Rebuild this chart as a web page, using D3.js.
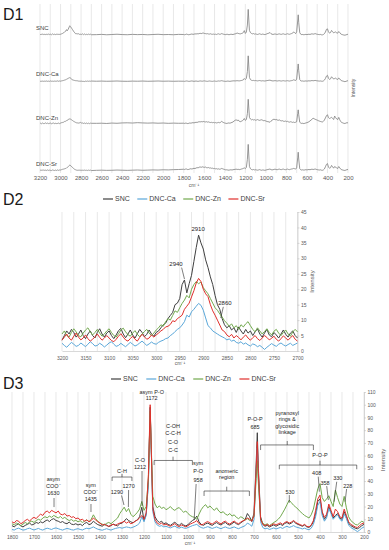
<!DOCTYPE html>
<html>
<head>
<meta charset="utf-8">
<script src="https://cdn.jsdelivr.net/npm/d3@7"></script>
<style>
  body { margin: 0; background: #fff; }
  svg { display: block; }
</style>
</head>
<body>
<div id="chart"></div>
<script>
// Series
const seriesNames = ['SNC', 'DNC-Ca', 'DNC-Zn', 'DNC-Sr'];
const seriesColors = ['#404040', '#5aa7d9', '#72a94e', '#e0302c'];

// D2: 3200 -> 2700 cm-1, every 5
const d2Wave = d3.range(3200, 2699, -5);
const d2SNC = [3.5, 5, 6.5, 5.5, 7, 6, 4.5, 5.5, 6.8, 5, 4, 5.5, 6.5, 5, 4.2, 6, 7.2, 5.5, 4.5, 5.8,
  6.5, 5, 4, 5.2, 6.6, 7.3, 5.5, 4.3, 5.5, 6.8, 5.2, 4.2, 5.6, 7, 6, 4.6, 5.4, 6.8, 5.5, 4.8,
  6, 6.5, 7.5, 8.5, 9, 10.5, 11.5, 12.5, 15, 15.5, 17, 21.5, 23, 18.8, 21.8, 24.5, 29, 33.5, 37.5, 35,
  33, 29.5, 27, 24, 21.5, 18, 15, 13.5, 10.5, 8.5, 7.5, 8.2, 6.8, 7.5, 6, 7.8, 6.5, 5.5, 7, 5.8,
  6.5, 5, 6.2, 7.2, 5.5, 4.5, 5.8, 7, 5.2, 4.6, 6, 5.2, 4.2, 5.5, 6.8, 5.4, 4.5, 5.8, 6.5, 5, 4.2];
const d2Ca = [2.5, 1.8, 1.2, 2, 2.8, 2.2, 1.5, 1.8, 2.6, 2, 1.4, 2.2, 3, 2.4, 1.6, 1.8, 2.5, 2, 1.3, 1.9,
  2.6, 3, 2.2, 1.5, 1.8, 2.5, 1.9, 1.4, 2.1, 2.8, 2.2, 1.6, 2, 2.6, 3.2, 2.5, 1.8, 2.3, 2.9, 2.4,
  2.2, 2.8, 3.2, 3.5, 4, 4.2, 5, 5.5, 6.3, 7, 7.5, 8.4, 9.5, 11.6, 11, 12.7, 13.5, 14.5, 15.4, 14.8,
  13.2, 10.7, 8.2, 7.5, 6.5, 6, 5.5, 5, 4.6, 4.2, 3.6, 3.9, 3.2, 3.5, 2.8, 2.5, 3, 2.2, 2.6, 2,
  1.6, 2.3, 2, 1.4, 1.8, 1.2, 0.5, 1.2, 1.8, 2.4, 1.9, 1.5, 2.2, 2.6, 2, 1.6, 2.1, 2.5, 1.8, 2.2, 2.6];
const d2Zn = [5.5, 6.5, 5, 4.5, 6, 7.2, 6.2, 5, 4.6, 5.8, 6.8, 7.5, 6.2, 5.2, 6, 7, 5.8, 4.8, 5.5, 6.5,
  7.2, 6, 5, 4.5, 5.6, 6.8, 7.4, 6.2, 5.3, 4.8, 5.8, 6.6, 5.4, 4.6, 5.5, 6.3, 7, 5.8, 5, 5.8,
  6.8, 7.5, 8.5, 8, 9.5, 10.5, 10, 11.5, 13, 12.5, 14, 15.4, 16.5, 18, 17.2, 20, 21.5, 22.5, 21.8, 22.3,
  20.5, 19.5, 18.5, 17, 15.5, 14, 13.2, 12, 11, 9.8, 9, 8, 8.8, 7.5, 8.2, 7, 8.5, 7.8, 8.8, 9.5,
  8.2, 7, 6.2, 7.5, 6.5, 5.5, 6.3, 7.2, 6, 5.2, 6.4, 7, 5.8, 5, 6, 6.8, 5.5, 4.8, 6.2, 7, 6.2];
const d2Sr = [3.5, 4.5, 5.5, 4.2, 3.5, 4.8, 5.8, 4.5, 3.6, 4.2, 5.2, 4, 3.2, 3.8, 4.6, 5.5, 4.4, 3.5, 4.2, 5,
  4.2, 3.4, 3, 3.8, 4.8, 5.6, 4.5, 3.6, 3.2, 4, 4.8, 3.8, 3.2, 4.4, 5.4, 4.6, 3.8, 4.2, 5.2, 4.5,
  5.2, 5.8, 6.5, 7, 7.8, 8, 8.6, 9.8, 9.5, 10.5, 11, 11.6, 13.5, 14.5, 15.5, 17.5, 19.5, 22, 23.5, 22.5,
  20, 18.5, 17.6, 15, 13, 11.6, 10, 8.4, 6.8, 6.3, 5.2, 4.6, 5.4, 4.2, 5, 4.4, 3.6, 4.5, 5.2, 4.2,
  3.5, 4.3, 5, 4, 3.4, 4.2, 5, 4.4, 3.6, 4.1, 4.8, 3.8, 3.2, 4, 4.9, 4.2, 3.5, 4.3, 5, 3.8, 3.2];

// D1 only: flat part between the two zoomed regions, 2650 -> 1850, every 50
const midWave = d3.range(2650, 1849, -50);
const midSNC = [4.5, 5.5, 4, 5, 6, 4.8, 4.2, 5.5, 4.6, 5.2, 4, 5, 5.8, 4.5, 5, 4.2, 5.5];
const midCa = [2, 2.5, 1.8, 2.2, 2.8, 2, 1.6, 2.4, 2, 2.6, 1.8, 2.2, 2.8, 2, 2.4, 1.8, 2.2];
const midZn = [6, 6.5, 5.5, 7, 6.2, 7.5, 8, 7.2, 8.5, 7.5, 6.8, 7.5, 6.5, 7.2, 6, 6.8, 6.2];
const midSr = [4, 4.5, 3.8, 4.2, 5, 4.4, 3.8, 4.5, 5.2, 4.2, 4.8, 5.5, 5, 6, 5.5, 6.5, 7];

// D3: 1800 -> 200 cm-1, every 10 plus the 1172 and 685 peaks
const d3Wave = [...d3.range(1800, 1175, -10), 1172, ...d3.range(1160, 685, -10), 685, ...d3.range(680, 199, -10)];
const d3SNC = [5, 4, 5.5, 6.5, 4.8, 4, 5.2, 6, 7, 5.5,
  6.2, 7.5, 6.8, 8, 7.2, 8.5, 9.5, 8.2, 9.8, 10.5,
  9, 8.5, 7.5, 8.2, 7, 6.5, 7.8, 6.2, 5.8, 6.5,
  5.5, 6.2, 5, 6.8, 7.5, 5.8, 6.4, 8.5, 7, 5.8,
  5.2, 4.5, 6, 5.5, 4.2, 5, 6.2, 5.5, 4.8, 6.5,
  7, 8.5, 10.5, 9, 8, 7.2, 8.5, 9.5, 12, 19.5,
  9, 14, 40, 98, 20, 12, 9, 7.5, 8.5, 6.5,
  7.2, 6, 5.2, 6.5, 7.8, 6, 5.2, 6.8, 5.5, 4.8,
  5.8, 7.5, 9, 10, 12.5, 8, 6, 5.2, 6.4, 7,
  6, 5.2, 6.5, 7.4, 6.2, 5.5, 6.8, 7.5, 6, 5.4,
  6.6, 7.8, 6.5, 5.8, 7.2, 8.5, 9.8, 14.5, 12, 8.2,
  15, 55, 78, 50, 12, 6, 4.5, 5.2, 4, 4.8, 5.6,
  4.5, 5.5, 6.2, 5, 6.8, 7.5, 6.2, 7, 8.5, 6.8,
  6, 5.2, 4.5, 5.5, 4, 3.6, 5, 8, 14, 24,
  26, 15, 10, 12.5, 20, 15.5, 11, 13, 14.5, 11,
  10, 16, 12, 7, 5, 4, 3, 2.5, 3.5, 5,
  6];
const d3Ca = [2, 1.5, 2.5, 3, 2.2, 1.5, 1.8, 2.6, 3, 2.2,
  1.6, 2.2, 2.8, 2, 1.5, 2.4, 3, 2.5, 2, 2.8,
  3.2, 2.6, 2, 1.5, 2.2, 2.8, 2.4, 1.8, 1.5, 2.2,
  2.6, 2, 1.6, 2.4, 3, 2.5, 3.2, 4, 3, 2.2,
  1.8, 1.4, 2, 2.6, 2, 1.5, 2.2, 2.8, 3.2, 3.5,
  3, 3.5, 4, 3.6, 3.2, 3.8, 4.5, 5.5, 7, 12,
  8, 13, 38, 96, 16, 8, 5.5, 4.5, 5, 4,
  4.5, 3.8, 3.2, 4, 4.6, 3.6, 3, 3.8, 3.2, 2.8,
  3.5, 4.2, 5, 5.5, 6, 4.5, 3.5, 3, 3.6, 4.2,
  3.5, 2.8, 3.4, 4, 3.2, 2.6, 3.4, 4, 3.2, 2.8,
  3.4, 4, 3.2, 2.6, 3.5, 4.2, 5, 7, 6, 4.5,
  10, 48, 66, 42, 8, 3.5, 2.5, 3, 2, 2.6, 3.2,
  2.4, 3, 3.6, 2.8, 3.8, 4.5, 3.6, 4.2, 5, 4,
  3.5, 3, 2.4, 3, 2.2, 1.8, 3, 6, 12, 21,
  24, 13, 8.5, 11, 18.5, 14.5, 10, 12, 13.5, 10,
  8.5, 14, 10.5, 5.5, 3.5, 2.5, 1.5, 0.3, 1.5, 3,
  4];
const d3Zn = [6.5, 5.5, 7, 6, 5, 6.2, 7.5, 6.5, 7.8, 8.5,
  7.5, 9, 10, 9.2, 11, 12, 11.2, 12.5, 11.5, 13,
  12, 11, 12.2, 10.5, 11.5, 10, 9, 9.8, 8.5, 9.2,
  8, 8.8, 7.5, 8.5, 9.5, 8.2, 10, 13.5, 10.5, 8.5,
  7, 6.2, 5.5, 6.8, 7.5, 6.5, 8, 9.5, 11, 14.5,
  17, 19.5, 16, 18.5, 14, 12, 13.5, 15.5, 18, 24,
  17, 20, 42, 95, 28, 22, 19, 20.5, 18.5, 19.5,
  17.5, 18.5, 20, 18, 17, 18.5, 19.2, 17.2, 15.5, 16.5,
  14.5, 13, 12, 11.5, 10, 14, 17.5, 20, 21.5, 19,
  20.5, 18.5, 17, 19, 16.5, 15, 16, 14, 13.2, 14.5,
  12.5, 13.5, 11.5, 10.5, 12, 11, 9.5, 10.5, 9, 10,
  12, 42, 56, 38, 10, 7, 5.5, 6.5, 5, 6.2, 7.5,
  8.5, 10, 12, 15, 18, 21.5, 25, 23, 21, 19.5,
  18, 16, 14.5, 13, 12, 11, 13.5, 18, 26, 34,
  38, 27, 24, 26, 28.5, 24, 20, 33, 27, 22,
  20, 28, 19, 12, 9, 7.5, 6, 5.5, 7, 8.5,
  7.5];
const d3Sr = [8, 7, 9, 8.5, 6.5, 7.5, 9, 10, 8.5, 10.5,
  11.5, 10.5, 12.5, 14, 13, 15.5, 16.5, 15, 17, 16,
  15, 16.5, 14, 13.5, 14.5, 12.5, 13, 11.5, 12, 10.5,
  11, 9.5, 10, 8.5, 9.5, 8, 9, 11, 9.5, 8,
  7, 5.5, 6, 5, 4.5, 5.5, 6, 5.2, 6.2, 7,
  7.5, 8.5, 7, 8, 6.5, 7.2, 8.5, 9.5, 11, 13,
  10, 15, 45, 100, 18, 10, 7, 6, 7, 5.5,
  6.2, 5.2, 4.5, 5.5, 6.6, 5, 4.2, 5.5, 4.8, 4,
  5, 6.2, 7, 7.8, 9, 6.5, 5.5, 6.2, 7.5, 8.2,
  7, 6.2, 7.5, 8.6, 7.2, 6.4, 7.8, 8.5, 7, 6.2,
  7.5, 8.6, 7.2, 6.5, 7.8, 8.8, 9.5, 11, 10, 8.5,
  13, 50, 71, 46, 10, 6, 5, 6, 4.8, 5.5, 6.5,
  5.5, 6.4, 7.2, 6, 7.5, 8.2, 7, 7.8, 9, 7.5,
  6.5, 5.8, 5, 6, 4.5, 4, 5.5, 9, 17, 26,
  29, 16, 11.5, 14, 22, 17, 12, 18, 16, 12,
  11, 18, 13, 8, 6, 5, 4, 3.5, 5, 6.5,
  7];

// D1 vertical offsets of the stacked traces
const d1Offsets = [502, 332, 172, 0];

// Tick values
const d1Ticks = d3.range(3200, 199, -200);
const d2Ticks = d3.range(3200, 2699, -50);
const d2YTicks = d3.range(0, 46, 5);
const d3Ticks = d3.range(1800, 199, -100);
const d3YTicks = d3.range(0, 111, 10);

// Annotations (wavenumber, intensity)
const d2Notes = [
  { w: 2911, v: [39.5], lines: ['2910'] },
  { w: 2958, v: [28.2], lines: ['2940'] },
  { w: 2854, v: [15.5], lines: ['2860'] }
];
const d2Leaders = [[2946, 27, 2940, 23.3], [2857.5, 14.3, 2863, 10.7]];

const d3Notes = [
  { w: 1165, v: [110.2, 105], lines: ['asym P-O', '1172'] },
  { w: 1068, v: [83.3, 77.4, 70.7, 64.4], lines: ['C-OH', 'C-C-H', 'C-O', 'C-C'] },
  { w: 1218, v: [56.6, 51.1], lines: ['C-O', '1212'] },
  { w: 1300, v: [47.9], lines: ['C-H'] },
  { w: 1270, v: [36.1], lines: ['1270'] },
  { w: 1323, v: [31], lines: ['1290'] },
  { w: 1612, v: [41.3, 35.8, 30.3], lines: ['asym', 'COO⁻', '1630'] },
  { w: 1442, v: [36.9, 31.4, 25.9], lines: ['sym', 'COO⁻', '1435'] },
  { w: 954, v: [54.2, 47.5, 40.9], lines: ['sym', 'P-O', '958'] },
  { w: 824, v: [48.2, 43.2], lines: ['anomeric', 'region'] },
  { w: 695, v: [88.8, 82.5], lines: ['P-O-P', '685'] },
  { w: 549, v: [93.7, 88.6, 83.5, 78.3], lines: ['pyranosyl', 'rings &', 'glycosidic', 'linkage'] },
  { w: 400, v: [60.5], lines: ['P-O-P'] },
  { w: 415, v: [46.1], lines: ['408'] },
  { w: 377, v: [38.3], lines: ['358'] },
  { w: 319, v: [42.2], lines: ['330'] },
  { w: 274, v: [36.1], lines: ['228'] },
  { w: 536, v: [31.7], lines: ['530'] }
];
const d3Leaders = [
  [1209, 47.9, 1209, 20.4], [1270, 33, 1271, 19.6], [1302, 28.7, 1291, 21.2],
  [1609, 26.7, 1609, 19.6], [1441, 22, 1441, 15.7], [963, 37.7, 972, 9.4],
  [408, 43.5, 403, 31.7], [369.5, 36.1, 362, 25.1], [324, 39.5, 336, 23.8],
  [279, 33.8, 286, 23.8], [539.5, 29, 539.5, 23]
];
const d3Brackets = [
  { from: 1154, to: 980, mid: 1068, v: 56.2, drop: 3.6, up: 3 },
  { from: 1345, to: 1255, mid: 1300, v: 43.2, drop: 3.1, up: 2.4 },
  { from: 927, to: 721, mid: 824, v: 32.2, drop: 3.9, up: 3.4 },
  { from: 670, to: 430, mid: 549, v: 68.4, drop: 4, up: 3.1 },
  { from: 585, to: 233, mid: 400, v: 52.6, drop: 3.3, up: 3.4 }
];

const d2Series = [d2SNC, d2Ca, d2Zn, d2Sr];
const midSeries = [midSNC, midCa, midZn, midSr];
const d3Series = [d3SNC, d3Ca, d3Zn, d3Sr];
d2Series.forEach(s => { if (s.length !== d2Wave.length) throw new Error('d2 length ' + s.length); });
midSeries.forEach(s => { if (s.length !== midWave.length) throw new Error('mid length ' + s.length); });
d3Series.forEach(s => { if (s.length !== d3Wave.length) throw new Error('d3 length ' + s.length); });

const FONT = '"Liberation Sans", Arial, sans-serif';
const TXT = '#595959';

const svg = d3.select('#chart').append('svg')
  .attr('width', 389).attr('height', 550)
  .style('font-family', FONT);
svg.append('rect').attr('width', 389).attr('height', 550).attr('fill', '#fff');

function grid(g, x, y, values) {
  const [yb, yt] = y.range();
  g.append('g').selectAll('line').data(values).join('line')
    .attr('x1', d => x(d)).attr('x2', d => x(d))
    .attr('y1', yt).attr('y2', yb)
    .attr('stroke', '#d9d9d9').attr('stroke-width', 0.6);
}

function bottomAxis(g, x, y0, ticks, fs, pad, showDomain) {
  const a = g.append('g').attr('transform', `translate(0,${y0})`)
    .call(d3.axisBottom(x).tickValues(ticks).tickSize(0).tickPadding(pad).tickFormat(d3.format('d')));
  a.attr('font-family', null).attr('font-size', fs);
  a.selectAll('text').attr('fill', TXT);
  if (showDomain) a.select('.domain').attr('stroke', '#bfbfbf').attr('stroke-width', 0.6);
  else a.select('.domain').remove();
}

function rightAxis(g, y, x0, ticks, fs) {
  const a = g.append('g').attr('transform', `translate(${x0},0)`)
    .call(d3.axisRight(y).tickValues(ticks).tickSize(2).tickSizeOuter(0).tickPadding(1.5));
  a.attr('font-family', null).attr('font-size', fs);
  a.selectAll('text').attr('fill', TXT);
  a.select('.domain').attr('stroke', '#bfbfbf').attr('stroke-width', 0.6);
  a.selectAll('.tick line').attr('stroke', '#bfbfbf').attr('stroke-width', 0.6);
}

function sideLabel(g, x, y, fs, text) {
  g.append('text').attr('transform', `translate(${x},${y}) rotate(-90)`)
    .attr('text-anchor', 'middle').attr('dy', '0.35em')
    .attr('font-size', fs).attr('fill', TXT).text(text);
}

function cmLabel(g, x, y) {
  g.append('text').attr('x', x).attr('y', y).attr('dy', '0.35em')
    .attr('text-anchor', 'middle').attr('font-size', 5).attr('fill', TXT).text('cm⁻¹');
}

function title(g, y, text) {
  g.append('text').attr('x', 3).attr('y', y).attr('font-size', 16).attr('fill', '#1a1a1a').text(text);
}

function legend(g, x0, y, gap) {
  let x = x0;
  seriesNames.forEach((name, i) => {
    g.append('line').attr('x1', x).attr('x2', x + 10).attr('y1', y).attr('y2', y)
      .attr('stroke', seriesColors[i]).attr('stroke-width', 1.2);
    const t = g.append('text').attr('x', x + 12).attr('y', y).attr('dy', '0.35em')
      .attr('font-size', 7).attr('fill', '#404040').text(name);
    x += 12 + t.node().getComputedTextLength() + gap;
  });
}

function traces(g, x, y, wave, series, width) {
  const line = d3.line().x((d, i) => x(wave[i])).y(d => y(d));
  g.append('g').selectAll('path').data(series).join('path')
    .attr('d', d => line(d))
    .attr('fill', 'none')
    .attr('stroke', (d, i) => seriesColors[i])
    .attr('stroke-width', width)
    .attr('stroke-linejoin', 'round');
}

function notes(g, x, y, items, fs) {
  items.forEach(n => {
    n.lines.forEach((s, k) => {
      g.append('text').attr('x', x(n.w)).attr('y', y(n.v[k])).attr('dy', '0.35em')
        .attr('text-anchor', 'middle').attr('font-size', fs).attr('fill', '#262626').text(s);
    });
  });
}

function leaders(g, x, y, items) {
  g.append('g').selectAll('line').data(items).join('line')
    .attr('x1', d => x(d[0])).attr('y1', d => y(d[1]))
    .attr('x2', d => x(d[2])).attr('y2', d => y(d[3]))
    .attr('stroke', '#262626').attr('stroke-width', 0.6);
}

function brackets(g, x, y, items) {
  g.append('g').selectAll('path').data(items).join('path')
    .attr('d', b => `M${x(b.from)},${y(b.v - b.drop)}V${y(b.v)}H${x(b.to)}V${y(b.v - b.drop)}` +
      `M${x(b.mid)},${y(b.v)}V${y(b.v + b.up)}`)
    .attr('fill', 'none').attr('stroke', '#262626').attr('stroke-width', 0.6);
}

// ---------- D1: full spectra, stacked ----------
const g1 = svg.append('g');
const x1 = d3.scaleLinear().domain([3200, 200]).range([40, 348]);
const y1 = d3.scaleLinear().domain([0, 620]).range([171.4, 4]);
const d1Wave = d2Wave.concat(midWave, d3Wave);
grid(g1, x1, d3.scaleLinear().range([173, 4]), d3.range(3200, 199, -100));
bottomAxis(g1, x1, 173, d1Ticks, 6, 3, false);
cmLabel(g1, 194, 185.5);
sideLabel(g1, 353, 88, 5, 'Intensity');
const d1Line = d3.line().x((d, i) => x1(d1Wave[i])).y(d => y1(d));
seriesNames.forEach((name, i) => {
  const vals = d2Series[i].concat(midSeries[i], d3Series[i]).map(v => v + d1Offsets[i]);
  g1.append('path').attr('d', d1Line(vals)).attr('fill', 'none')
    .attr('stroke', '#7f7f7f').attr('stroke-width', 0.8).attr('stroke-linejoin', 'round');
  g1.append('text').attr('x', 36).attr('y', y1(d1Offsets[i] + 28)).attr('dy', '0.35em')
    .attr('font-size', 6).attr('fill', '#404040').text(name);
});
title(g1, 20, 'D1');

// ---------- D2: 3200-2700 ----------
const g2 = svg.append('g');
const x2 = d3.scaleLinear().domain([3200, 2700]).range([62, 297.5]);
const y2 = d3.scaleLinear().domain([0, 45]).range([351, 212]);
title(g2, 205, 'D2');
legend(g2, 103, 199, 7.5);
grid(g2, x2, y2, d3.range(3200, 2699, -25));
bottomAxis(g2, x2, 351, d2Ticks, 5, 5.2, true);
rightAxis(g2, y2, 297.5, d2YTicks, 5);
cmLabel(g2, 180, 363.5);
sideLabel(g2, 312, 281.5, 6, 'Intensity');
traces(g2, x2, y2, d2Wave, d2Series, 1);
notes(g2, x2, y2, d2Notes, 6);
leaders(g2, x2, y2, d2Leaders);

// ---------- D3: 1800-200 ----------
const g3 = svg.append('g');
const x3 = d3.scaleLinear().domain([1800, 200]).range([12, 364]);
const y3 = d3.scaleLinear().domain([0, 110]).range([532, 392]);
title(g3, 389, 'D3');
legend(g3, 111, 379, 8.5);
grid(g3, x3, y3, d3.range(1800, 199, -50));
bottomAxis(g3, x3, 532, d3Ticks, 5, 3.5, true);
rightAxis(g3, y3, 364, d3YTicks, 5);
cmLabel(g3, 190, 543.5);
sideLabel(g3, 383, 460, 6, 'Intensity');
traces(g3, x3, y3, d3Wave, d3Series, 1);
notes(g3, x3, y3, d3Notes, 5.5);
leaders(g3, x3, y3, d3Leaders);
brackets(g3, x3, y3, d3Brackets);
</script>
</body>
</html>
